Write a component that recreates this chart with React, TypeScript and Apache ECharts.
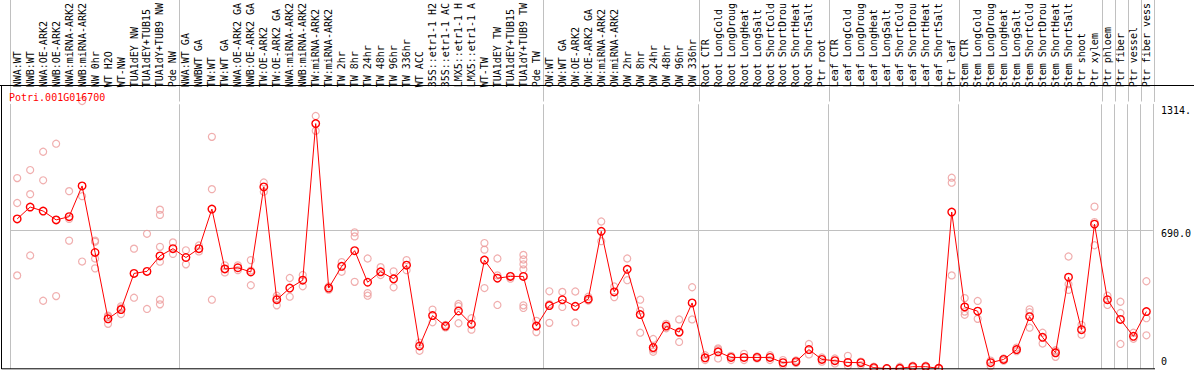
import React, { useEffect, useRef } from "react";
import * as echarts from "echarts";

const geneTitle = "Potri.001G016700";

const categories = [
  "NWA:WT", "NWB:WT", "NWA:OE-ARK2", "NWB:OE-ARK2", "NWA:miRNA-ARK2", "NWB:miRNA-ARK2",
  "NW 0hr", "WT H2O", "WT-NW", "TUA1dEY NW", "TUA1dEY+TUB15", "TUA1dY+TUB9 NW", "Pde NW",
  "NWA:WT GA", "NWBWT GA", "TW:WT", "TW:WT GA", "NWA:OE-ARK2 GA", "NWB:OE-ARK2 GA",
  "TW:OE-ARK2", "TW:OE-ARK2 GA", "NWA:miRNA-ARK2", "NWB:miRNA-ARK2", "TW:miRNA-ARK2",
  "TW:miRNA-ARK2", "TW 2hr", "TW 8hr", "TW 24hr", "TW 48hr", "TW 96hr", "TW 336hr",
  "WT ACC", "35S::etr1-1 H2", "35S::etr1-1 AC", "LMX5::etr1-1 H", "LMX5::etr1-1 A",
  "WT-TW", "TUA1dEY TW", "TUA1dEY+TUB15", "TUA1dY+TUB9 TW", "Pde TW",
  "OW:WT", "OW:WT GA", "OW:OE-ARK2", "OW:OE-ARK2 GA", "OW:miRNA-ARK2", "OW:miRNA-ARK2",
  "OW 2hr", "OW 8hr", "OW 24hr", "OW 48hr", "OW 96hr", "OW 336hr",
  "Root CTR", "Root LongCold", "Root LongDroug", "Root LongHeat", "Root LongSalt",
  "Root ShortCold", "Root ShortDrou", "Root ShortHeat", "Root ShortSalt", "Ptr root",
  "Leaf CTR", "Leaf LongCold", "Leaf LongDroug", "Leaf LongHeat", "Leaf LongSalt",
  "Leaf ShortCold", "Leaf ShortDrou", "Leaf ShortHeat", "Leaf ShortSalt", "Ptr leaf",
  "Stem CTR", "Stem LongCold", "Stem LongDroug", "Stem LongHeat", "Stem LongSalt",
  "Stem ShortCold", "Stem ShortDrou", "Stem ShortHeat", "Stem ShortSalt", "Ptr shoot",
  "Ptr xylem", "Ptr phloem", "Ptr fiber", "Ptr vessel", "Ptr fiber vess",
];

// number of categories in each separated group
const groupSizes = [13, 28, 12, 10, 10, 11, 1, 1, 1, 1];

const means = [
  744, 803, 783, 739, 755, 908, 577, 247, 293, 473, 483, 560, 596,
  552, 596, 793, 495, 501, 480, 903, 342, 400, 439, 1218, 400, 508, 586, 429, 481, 446, 514,
  112, 263, 211, 286, 220, 539, 449, 458, 458, 211,
  313, 342, 309, 345, 682, 381, 493, 268, 104, 211, 181, 326,
  53, 83, 55, 55, 55, 55, 29, 34, 94, 45,
  39, 30, 29, 4, 0, 1, 9, 9, 1, 778,
  306, 285, 29, 45, 94, 258, 155, 78, 454, 193, 718,
  342, 244, 160, 283,
];

const replicates = [
  [947, 823, 463], [987, 867, 562], [1078, 936, 337], [1118, 739, 360], [882, 744, 636],
  [1330, 857, 532], [636, 630, 547, 498], [263, 258, 222], [309, 300, 271], [596, 352],
  [670, 296], [790, 764, 605, 531, 342, 319], [627, 570],
  [588, 518], [612, 582], [1152, 892, 342], [513, 495, 478], [513, 489], [539, 487, 414],
  [925, 879], [362, 350, 314], [450, 357], [465, 409], [1256, 1182], [408, 392],
  [529, 481], [677, 657, 431], [547, 375, 362], [504, 465], [483, 404], [539, 489],
  [129, 88], [293, 230], [217, 204], [321, 310, 225], [250, 193], [624, 591, 400],
  [547, 463, 316], [460, 447], [565, 542, 518, 493, 314, 301], [237, 181],
  [384, 320, 227], [381, 306], [383, 229], [357, 340, 338], [731, 633], [408, 355],
  [547, 439], [342, 288, 178], [147, 95, 83], [222, 211, 200], [244, 178, 132], [404, 244],
  [66, 42], [100, 94, 50], [63, 42], [73, 42], [60, 50], [66, 42], [42, 17], [40, 28],
  [122, 70], [55, 34],
  [50, 25], [63, 14], [34, 17], [9, 0], [2, 0], [9, 0], [14, 5], [14, 5], [3, 0],
  [949, 924, 463],
  [350, 283, 267], [336, 247], [39, 12], [50, 39], [104, 86], [294, 280, 203], [178, 124],
  [91, 85, 58], [557, 419, 391], [217, 168], [805, 728, 613],
  [362, 316], [332, 276, 122], [178, 148], [434, 250, 165],
];

const yTickLabels: Record<number, string> = { 0: "0", 690: "690.0", 1314: "1314." };
const yMax = 1314;
const yInterval = 690;

const MONO = "'DejaVu Sans Mono', monospace";
const GRID_GRAY = "#c0c0c0";

export default function App() {
  const ref = useRef<HTMLDivElement>(null);

  useEffect(() => {
    if (!ref.current) return;
    const chart = echarts.init(ref.current, undefined, { renderer: "svg" });

    const boundaries = new Set<number>();
    let acc = 0;
    groupSizes.forEach((s) => {
      boundaries.add(acc);
      acc += s;
    });
    const splitInterval = (index: number) => boundaries.has(index);

    const repData: [number, number][] = [];
    replicates.forEach((vals, i) => vals.forEach((v) => repData.push([i, v])));

    const left = 10.7;
    const right = 39.3;

    const edgeAxis = (gridIndex: number, position: string) => ({
      gridIndex,
      type: "value",
      position,
      min: 0,
      max: 1,
      axisLine: { show: true, lineStyle: { color: GRID_GRAY, width: 1 } },
      axisTick: { show: false },
      axisLabel: { show: false },
      splitLine: { show: false },
    });

    chart.setOption({
      animation: false,
      backgroundColor: "#ffffff",
      title: {
        text: geneTitle,
        left: 9,
        top: 92,
        padding: 0,
        textStyle: { color: "#ff0000", fontSize: 10, fontFamily: MONO, fontWeight: "normal" },
      },
      grid: [
        { left, right, top: 0, height: 101.5 },
        { left, right, top: 101.5, bottom: 1.5 },
      ],
      xAxis: [
        {
          gridIndex: 0,
          type: "category",
          data: categories,
          axisLine: { show: false },
          axisTick: { show: false },
          axisLabel: { show: false },
          splitLine: { show: true, interval: splitInterval, lineStyle: { color: GRID_GRAY, width: 1 } },
        },
        {
          gridIndex: 1,
          type: "category",
          position: "top",
          data: categories,
          axisLine: { show: false },
          axisTick: { show: false },
          axisLabel: {
            show: true,
            interval: 0,
            rotate: 90,
            margin: 17,
            color: "#000000",
            fontSize: 10,
            fontFamily: MONO,
          },
          splitLine: { show: true, interval: splitInterval, lineStyle: { color: GRID_GRAY, width: 1 } },
        },
      ],
      yAxis: [
        edgeAxis(0, "right"),
        {
          gridIndex: 1,
          type: "value",
          position: "right",
          min: 0,
          max: yMax,
          interval: yInterval,
          axisLine: { show: true, lineStyle: { color: GRID_GRAY, width: 1 } },
          axisTick: { show: false },
          axisLabel: {
            show: true,
            margin: 8,
            align: "left",
            color: "#000000",
            fontSize: 10,
            fontFamily: MONO,
            formatter: (v: number) => {
              const t = yTickLabels[v] ?? String(v);
              if (v === 0) return `{b|${t}}`;
              if (v === yMax) return `{t|${t}}`;
              return `{m|${t}}`;
            },
            rich: {
              t: { fontSize: 10, fontFamily: MONO, color: "#000", padding: [12, 0, 0, 0] },
              m: { fontSize: 10, fontFamily: MONO, color: "#000", padding: [7, 0, 0, 0] },
              b: { fontSize: 10, fontFamily: MONO, color: "#000", padding: [0, 0, 14, 0] },
            },
          },
          splitLine: {
            show: true,
            showMinLine: false,
            showMaxLine: false,
            lineStyle: { color: GRID_GRAY, width: 1 },
          },
        },
        edgeAxis(0, "left"),
        edgeAxis(1, "left"),
      ],
      graphic: [
        { type: "line", shape: { x1: 0, y1: 85.5, x2: 1194, y2: 85.5 }, style: { stroke: "#000", lineWidth: 1 }, z: 100 },
        { type: "line", shape: { x1: 1.5, y1: 85.5, x2: 1.5, y2: 369 }, style: { stroke: "#000", lineWidth: 1 }, z: 100 },
        { type: "line", shape: { x1: 1.5, y1: 368.8, x2: 1155, y2: 368.8 }, style: { stroke: "#000", lineWidth: 1 }, z: 100 },
      ],
      series: [
        {
          name: "replicates",
          type: "scatter",
          xAxisIndex: 1,
          yAxisIndex: 1,
          data: repData,
          symbol: "circle",
          symbolSize: 7,
          clip: false,
          itemStyle: { color: "rgba(0,0,0,0)", borderColor: "#ec9a9a", borderWidth: 1.2 },
          z: 2,
        },
        {
          name: "mean",
          type: "line",
          xAxisIndex: 1,
          yAxisIndex: 1,
          data: means,
          symbol: "circle",
          symbolSize: 7.5,
          clip: false,
          lineStyle: { color: "#ff0000", width: 1 },
          itemStyle: { color: "rgba(0,0,0,0)", borderColor: "#ff0000", borderWidth: 1.4 },
          z: 3,
        },
      ],
    });

    return () => chart.dispose();
  }, []);

  return (
    <div
      ref={ref}
      style={{ position: "fixed", left: 0, top: 0, width: 1194, height: 370, background: "#fff" }}
    />
  );
}
